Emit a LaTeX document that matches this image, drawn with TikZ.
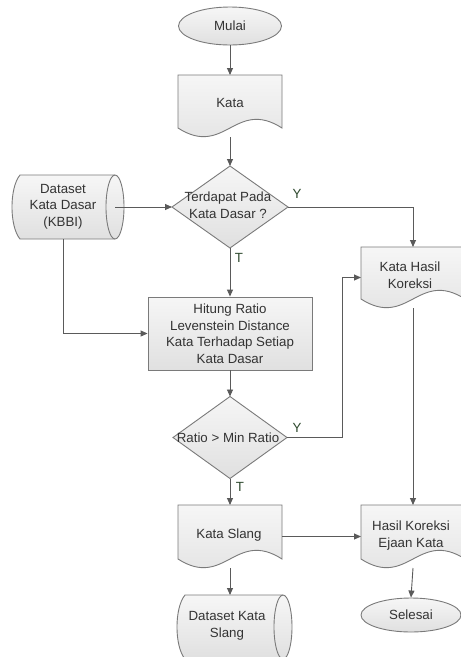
\documentclass[tikz,border=0pt]{standalone}
\usepackage{fontspec}
\setmainfont{Liberation Sans}
\usetikzlibrary{shapes.geometric,arrows.meta,calc}
\definecolor{shpcol}{HTML}{7A7A7A}
\definecolor{conncol}{HTML}{5A5A5A}
\definecolor{topc}{HTML}{F6F6F6}
\definecolor{botc}{HTML}{E0E0E0}
\definecolor{txtcol}{HTML}{333333}
\definecolor{lblcol}{HTML}{2F4A2F}
\tikzset{
  shp/.style={draw=shpcol, line width=0.9pt, top color=topc, bottom color=botc},
  conn/.style={draw=conncol, line width=0.9pt, -{Triangle[length=7pt,width=6pt]}},
  txt/.style={font=\fontsize{13.3}{16.5}\selectfont, text=txtcol, align=center, inner sep=0pt},
  lbl/.style={font=\fontsize{13.3}{16}\selectfont, text=lblcol, inner sep=0pt},
  box/.style={rectangle, inner sep=0pt, outer sep=0pt, draw=none},
  term/.style={ellipse, shp, inner sep=0pt, txt},
  dia/.style={diamond, shp, inner sep=0pt, outer sep=0pt},
  procbox/.style={rectangle, shp, inner sep=0pt, txt},
}
\newcommand\docpath[1]{%
  \draw[shp] let \p1=(#1.north west), \p2=(#1.south east) in
    (\x1,\y1) -- (\x2,\y1) -- (\x2,\y2+9pt)
    .. controls ({\x1+0.55*(\x2-\x1)},\y2+39pt) and ({\x1+0.45*(\x2-\x1)},\y2-21pt) ..
    (\x1,\y2+9pt) -- cycle;}
\newcommand\storepath[1]{%
  \draw[shp] let \p1=(#1.north west), \p2=(#1.south east) in
    (\x1+8pt,\y1) -- (\x2,\y1)
    arc[start angle=90, end angle=-90, x radius=9pt, y radius={(\y1-\y2)/2}]
    -- (\x1+8pt,\y2)
    .. controls (\x1-2.7pt,{\y2+0.2*(\y1-\y2)}) and (\x1-2.7pt,{\y1-0.2*(\y1-\y2)}) ..
    (\x1+8pt,\y1) -- cycle;
  \draw[draw=shpcol, line width=0.9pt] let \p1=(#1.north west), \p2=(#1.south east) in
    (\x2,\y1) arc[start angle=90, end angle=270, x radius=9pt, y radius={(\y1-\y2)/2}];}
\begin{document}
\begin{tikzpicture}[x=1pt,y=-1pt]
\fill[white] (0,0) rectangle (461,657);
\useasboundingbox (0,0) rectangle (461,657);

% terminals
\node[term, minimum width=103pt, minimum height=38pt] (mulai) at (230,26) {Mulai};
\node[term, minimum width=100pt, minimum height=34pt] (selesai) at (411,615) {Selesai};

% documents
\node[box, minimum width=104pt, minimum height=62pt] (kata) at (230,106) {};
\docpath{kata}
\node[txt] (katat) at (230,103) {Kata};

\node[box, minimum width=104pt, minimum height=61pt] (khk) at (413,277.5) {};
\docpath{khk}
\node[txt] (khkt) at (410,275) {Kata Hasil\\Koreksi};

\node[box, minimum width=104pt, minimum height=63pt] (ks) at (230,536.5) {};
\docpath{ks}
\node[txt] (kst) at (229,535) {Kata Slang};

\node[box, minimum width=104pt, minimum height=63pt] (hk) at (413,536.5) {};
\docpath{hk}
\node[txt] (hkt) at (411,535.5) {Hasil Koreksi\\Ejaan Kata};

% stored data
\node[box, minimum width=103pt, minimum height=64pt] (kbbi) at (63.5,207) {};
\storepath{kbbi}
\node[txt] (kbbit) at (63,206.5) {Dataset\\Kata Dasar\\(KBBI)};

\node[box, minimum width=106pt, minimum height=64pt] (dks) at (230,627) {};
\storepath{dks}
\node[txt] (dkst) at (227,626) {Dataset Kata\\Slang};

% process
\node[procbox, minimum width=164pt, minimum height=73pt] (hit) at (230,333.5)
  {Hitung Ratio\\Levenstein Distance\\Kata Terhadap Setiap\\Kata Dasar};

% decisions
\node[dia, minimum width=116pt, minimum height=82pt] (d1) at (230,207) {};
\node[txt] (d1t) at (228,205) {Terdapat Pada\\Kata Dasar ?};
\node[dia, minimum width=114pt, minimum height=82pt] (d2) at (230,437.5) {};
\node[txt] (d2t) at (228,437.5) {Ratio > Min Ratio};

% labels
\node[lbl] (y1) at (297,194) {Y};
\node[lbl] (t1) at (239,258) {T};
\node[lbl] (y2) at (297,428) {Y};
\node[lbl] (t2) at (240,487) {T};

% connectors
\coordinate (bend) at (342,0);
\draw[conn] (mulai.south) -- (kata.north);
\draw[conn] (kata.south) -- (d1.north);
\draw[conn] (kbbi.east) -- (d1.west);
\draw[conn] (kbbi.south) |- (hit.west);
\draw[conn] (d1.south) -- (hit.north);
\draw[conn] (d1.east) -| (khk.north);
\draw[conn] (hit.south) -- (d2.north);
\draw[conn] (d2.east) -- (d2.east -| bend) |- (khk.west);
\draw[conn] (d2.south) -- (ks.north);
\draw[conn] (ks.east) -- (hk.west);
\draw[conn] (khk.south) -- (hk.north);
\draw[conn] (ks.south) -- (dks.north);
\draw[conn] (hk.south) -- (selesai.north);
\end{tikzpicture}
\end{document}
